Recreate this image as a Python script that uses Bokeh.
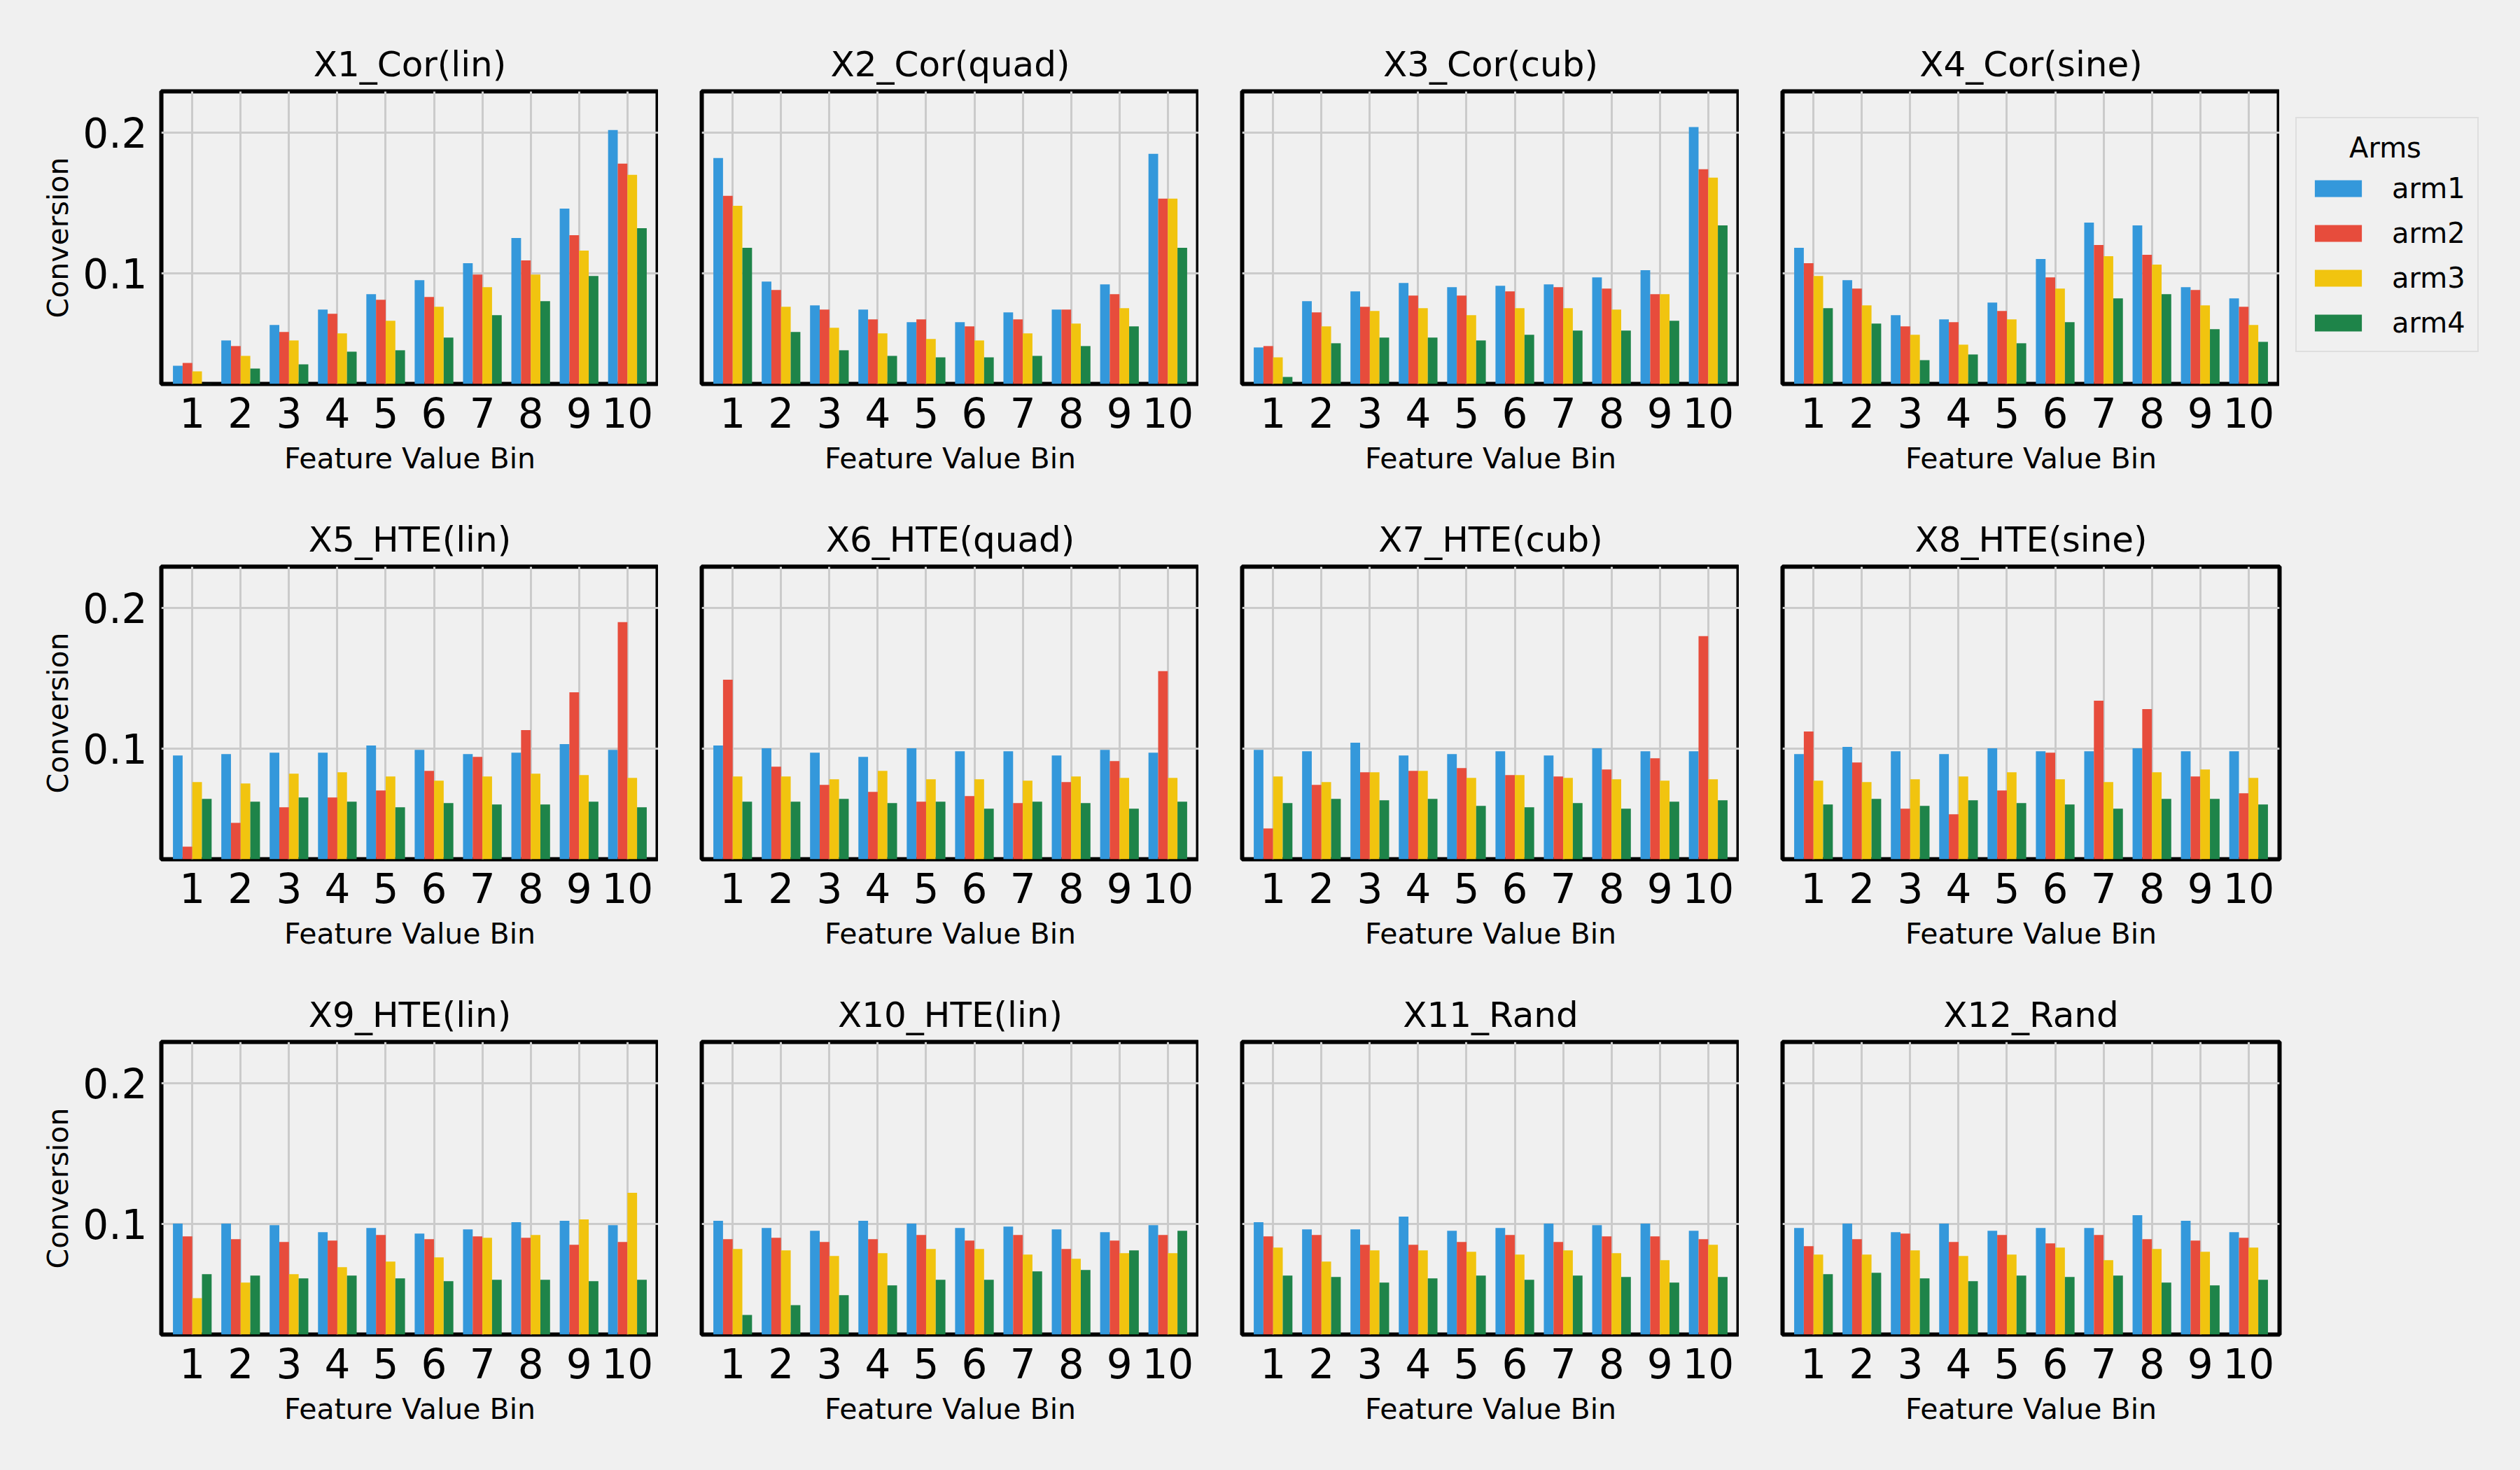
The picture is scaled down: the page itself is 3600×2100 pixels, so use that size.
from bokeh.plotting import figure
from bokeh.layouts import column, row
from bokeh.models import (ColumnDataSource, FixedTicker, PrintfTickFormatter,
                          Legend, LegendItem, Label, Range1d)
from bokeh.transform import dodge
from bokeh.embed import file_html
from bokeh.resources import INLINE

# ---- data -------------------------------------------------------------
bins = [1, 2, 3, 4, 5, 6, 7, 8, 9, 10]
arms = ["arm1", "arm2", "arm3", "arm4"]
arm_colors = ["#3498db", "#e74c3c", "#f1c40f", "#1e8449"]

feature_names = ["X1_Cor(lin)", "X2_Cor(quad)", "X3_Cor(cub)", "X4_Cor(sine)",
                 "X5_HTE(lin)", "X6_HTE(quad)", "X7_HTE(cub)", "X8_HTE(sine)",
                 "X9_HTE(lin)", "X10_HTE(lin)", "X11_Rand", "X12_Rand"]

x1_cor_lin = {
    "arm1": [0.034, 0.052, 0.063, 0.074, 0.085, 0.095, 0.107, 0.125, 0.146, 0.202],
    "arm2": [0.036, 0.048, 0.058, 0.071, 0.081, 0.083, 0.099, 0.109, 0.127, 0.178],
    "arm3": [0.030, 0.041, 0.052, 0.057, 0.066, 0.076, 0.090, 0.099, 0.116, 0.170],
    "arm4": [0.018, 0.032, 0.035, 0.044, 0.045, 0.054, 0.070, 0.080, 0.098, 0.132],
}
x2_cor_quad = {
    "arm1": [0.182, 0.094, 0.077, 0.074, 0.065, 0.065, 0.072, 0.074, 0.092, 0.185],
    "arm2": [0.155, 0.088, 0.074, 0.067, 0.067, 0.062, 0.067, 0.074, 0.085, 0.153],
    "arm3": [0.148, 0.076, 0.061, 0.057, 0.053, 0.052, 0.057, 0.064, 0.075, 0.153],
    "arm4": [0.118, 0.058, 0.045, 0.041, 0.040, 0.040, 0.041, 0.048, 0.062, 0.118],
}
x3_cor_cub = {
    "arm1": [0.047, 0.080, 0.087, 0.093, 0.090, 0.091, 0.092, 0.097, 0.102, 0.204],
    "arm2": [0.048, 0.072, 0.076, 0.084, 0.084, 0.087, 0.090, 0.089, 0.085, 0.174],
    "arm3": [0.040, 0.062, 0.073, 0.075, 0.070, 0.075, 0.075, 0.074, 0.085, 0.168],
    "arm4": [0.026, 0.050, 0.054, 0.054, 0.052, 0.056, 0.059, 0.059, 0.066, 0.134],
}
x4_cor_sine = {
    "arm1": [0.118, 0.095, 0.070, 0.067, 0.079, 0.110, 0.136, 0.134, 0.090, 0.082],
    "arm2": [0.107, 0.089, 0.062, 0.065, 0.073, 0.097, 0.120, 0.113, 0.088, 0.076],
    "arm3": [0.098, 0.077, 0.056, 0.049, 0.067, 0.089, 0.112, 0.106, 0.077, 0.063],
    "arm4": [0.075, 0.064, 0.038, 0.042, 0.050, 0.065, 0.082, 0.085, 0.060, 0.051],
}
x5_hte_lin = {
    "arm1": [0.095, 0.096, 0.097, 0.097, 0.102, 0.099, 0.096, 0.097, 0.103, 0.099],
    "arm2": [0.030, 0.047, 0.058, 0.065, 0.070, 0.084, 0.094, 0.113, 0.140, 0.190],
    "arm3": [0.076, 0.075, 0.082, 0.083, 0.080, 0.077, 0.080, 0.082, 0.081, 0.079],
    "arm4": [0.064, 0.062, 0.065, 0.062, 0.058, 0.061, 0.060, 0.060, 0.062, 0.058],
}
x6_hte_quad = {
    "arm1": [0.102, 0.100, 0.097, 0.094, 0.100, 0.098, 0.098, 0.095, 0.099, 0.097],
    "arm2": [0.149, 0.087, 0.074, 0.069, 0.062, 0.066, 0.061, 0.076, 0.091, 0.155],
    "arm3": [0.080, 0.080, 0.078, 0.084, 0.078, 0.078, 0.077, 0.080, 0.079, 0.079],
    "arm4": [0.062, 0.062, 0.064, 0.061, 0.062, 0.057, 0.062, 0.061, 0.057, 0.062],
}
x7_hte_cub = {
    "arm1": [0.099, 0.098, 0.104, 0.095, 0.096, 0.098, 0.095, 0.100, 0.098, 0.098],
    "arm2": [0.043, 0.074, 0.083, 0.084, 0.086, 0.081, 0.080, 0.085, 0.093, 0.180],
    "arm3": [0.080, 0.076, 0.083, 0.084, 0.079, 0.081, 0.079, 0.078, 0.077, 0.078],
    "arm4": [0.061, 0.064, 0.063, 0.064, 0.059, 0.058, 0.061, 0.057, 0.062, 0.063],
}
x8_hte_sine = {
    "arm1": [0.096, 0.101, 0.098, 0.096, 0.100, 0.098, 0.098, 0.100, 0.098, 0.098],
    "arm2": [0.112, 0.090, 0.057, 0.053, 0.070, 0.097, 0.134, 0.128, 0.080, 0.068],
    "arm3": [0.077, 0.076, 0.078, 0.080, 0.083, 0.078, 0.076, 0.083, 0.085, 0.079],
    "arm4": [0.060, 0.064, 0.059, 0.063, 0.061, 0.060, 0.057, 0.064, 0.064, 0.060],
}
x9_hte_lin = {
    "arm1": [0.100, 0.100, 0.099, 0.094, 0.097, 0.093, 0.096, 0.101, 0.102, 0.099],
    "arm2": [0.091, 0.089, 0.087, 0.088, 0.092, 0.089, 0.091, 0.090, 0.085, 0.087],
    "arm3": [0.047, 0.058, 0.064, 0.069, 0.073, 0.076, 0.090, 0.092, 0.103, 0.122],
    "arm4": [0.064, 0.063, 0.061, 0.063, 0.061, 0.059, 0.060, 0.060, 0.059, 0.060],
}
x10_hte_lin = {
    "arm1": [0.102, 0.097, 0.095, 0.102, 0.100, 0.097, 0.098, 0.096, 0.094, 0.099],
    "arm2": [0.089, 0.090, 0.087, 0.089, 0.092, 0.088, 0.092, 0.082, 0.088, 0.092],
    "arm3": [0.082, 0.081, 0.077, 0.079, 0.082, 0.082, 0.078, 0.075, 0.079, 0.079],
    "arm4": [0.035, 0.042, 0.049, 0.056, 0.060, 0.060, 0.066, 0.067, 0.081, 0.095],
}
x11_rand = {
    "arm1": [0.101, 0.096, 0.096, 0.105, 0.095, 0.097, 0.100, 0.099, 0.100, 0.095],
    "arm2": [0.091, 0.092, 0.085, 0.085, 0.087, 0.092, 0.087, 0.091, 0.091, 0.089],
    "arm3": [0.083, 0.073, 0.081, 0.081, 0.080, 0.078, 0.081, 0.079, 0.074, 0.085],
    "arm4": [0.063, 0.062, 0.058, 0.061, 0.063, 0.060, 0.063, 0.062, 0.058, 0.062],
}
x12_rand = {
    "arm1": [0.097, 0.100, 0.094, 0.100, 0.095, 0.097, 0.097, 0.106, 0.102, 0.094],
    "arm2": [0.084, 0.089, 0.093, 0.087, 0.092, 0.086, 0.092, 0.089, 0.088, 0.090],
    "arm3": [0.078, 0.078, 0.081, 0.077, 0.078, 0.083, 0.074, 0.082, 0.080, 0.083],
    "arm4": [0.064, 0.065, 0.061, 0.059, 0.063, 0.062, 0.063, 0.058, 0.056, 0.060],
}

feature_data = [x1_cor_lin, x2_cor_quad, x3_cor_cub, x4_cor_sine,
                x5_hte_lin, x6_hte_quad, x7_hte_cub, x8_hte_sine,
                x9_hte_lin, x10_hte_lin, x11_rand, x12_rand]

y_ticks = [0.1, 0.2]

# ---- styling ----------------------------------------------------------
BG = "#f0f0f0"
GRID = "#cbcbcb"
FONT = "DejaVu Sans"
FRAME_W, FRAME_H = 710, 418
GAP = 62
LEGEND_W = 344
offsets = [-0.3, -0.1, 0.1, 0.3]


def border_sizes(rw):
    top = 130 if rw == 0 else 121
    bottom = 194 if rw == 2 else 140
    return top, bottom


def make_source(data):
    src = dict(bin=bins)
    src.update(data)
    return ColumnDataSource(src)


def make_panel(name, data, col, rw):
    left = 230 if col == 0 else GAP
    right = LEGEND_W if (col == 3 and rw > 0) else 0
    top, bottom = border_sizes(rw)

    p = figure(frame_width=FRAME_W, frame_height=FRAME_H,
               x_range=Range1d(0.36, 10.64), y_range=Range1d(0.021, 0.2295),
               output_backend="svg", toolbar_location=None,
               min_border_left=left, min_border_right=right,
               min_border_top=top, min_border_bottom=bottom,
               background_fill_color=BG, border_fill_color=BG, title=name)

    p.title.text_font = FONT
    p.title.text_font_size = "50px"
    p.title.text_font_style = "normal"
    p.title.text_color = "black"
    p.title.align = "center"
    p.title.standoff = 20

    source = make_source(data)
    for arm, color, off in zip(arms, arm_colors, offsets):
        p.vbar(x=dodge("bin", off, range=p.x_range), top=arm, bottom=0,
               width=0.2, source=source, fill_color=color, line_color=None)

    p.outline_line_color = "black"
    p.outline_line_width = 6

    p.xgrid.grid_line_color = GRID
    p.xgrid.grid_line_width = 3
    p.ygrid.grid_line_color = GRID
    p.ygrid.grid_line_width = 3

    xa = p.xaxis[0]
    xa.ticker = FixedTicker(ticks=bins)
    xa.axis_label = "Feature Value Bin"
    ya = p.yaxis[0]
    ya.ticker = FixedTicker(ticks=y_ticks)
    ya.formatter = PrintfTickFormatter(format="%.1f")
    ya.axis_label = "Conversion"

    for ax in (xa, ya):
        ax.axis_line_color = None
        ax.major_tick_line_color = None
        ax.minor_tick_line_color = None
        ax.major_tick_in = 0
        ax.major_tick_out = 0
        ax.major_label_text_font = FONT
        ax.major_label_text_font_size = "58px"
        ax.major_label_text_color = "black"
        ax.axis_label_text_font = FONT
        ax.axis_label_text_font_size = "41px"
        ax.axis_label_text_font_style = "normal"
        ax.axis_label_text_color = "black"
    xa.major_label_standoff = 19
    xa.axis_label_standoff = 17
    ya.major_label_standoff = 20
    ya.axis_label_standoff = 8

    if col != 0:
        ya.visible = False
    return p


def make_legend_panel(data):
    # narrow companion figure that carries the "Arms" legend; its bar
    # renderers are hidden and only lend their colours to the legend keys
    top, bottom = border_sizes(0)
    lp = figure(frame_width=LEGEND_W, frame_height=FRAME_H,
                x_range=Range1d(0.36, 10.64), y_range=Range1d(0.021, 0.2295),
                output_backend="svg", toolbar_location=None,
                min_border_left=0, min_border_right=0,
                min_border_top=top, min_border_bottom=bottom,
                background_fill_color=BG, border_fill_color=BG)
    lp.axis.visible = False
    lp.grid.visible = False
    lp.outline_line_color = None

    source = make_source(data)
    keys = []
    for arm, color, off in zip(arms, arm_colors, offsets):
        r = lp.vbar(x=dodge("bin", off, range=lp.x_range), top=arm, bottom=0,
                    width=0.2, source=source, fill_color=color, line_color=None)
        r.visible = False
        keys.append(r)

    items = [LegendItem(label=a, renderers=[r]) for a, r in zip(arms, keys)]
    legend = Legend(items=items, location=(23, 45), click_policy="none",
                    title="Arms", title_text_alpha=0.0,
                    title_text_font=FONT, title_text_font_size="40px",
                    title_standoff=14,
                    label_text_font=FONT, label_text_font_size="40px",
                    label_text_color="black",
                    glyph_width=84, glyph_height=30, label_standoff=35,
                    spacing=18, padding=17, margin=0,
                    background_fill_alpha=0.0,
                    border_line_color="#cccccc", border_line_width=2)
    lp.add_layout(legend)
    lp.add_layout(Label(x=151, y=338, x_units="screen", y_units="screen",
                        text="Arms", text_font=FONT, text_font_size="40px",
                        text_align="center", text_baseline="middle",
                        text_color="black", level="overlay"))
    return lp


panels = [make_panel(n, d, i % 4, i // 4)
          for i, (n, d) in enumerate(zip(feature_names, feature_data))]

layout = column(row(*panels[0:4], make_legend_panel(x4_cor_sine)),
                row(*panels[4:8]), row(*panels[8:12]))
layout.styles = {"background-color": BG}

open("out.html", "w").write(file_html(layout, INLINE))
